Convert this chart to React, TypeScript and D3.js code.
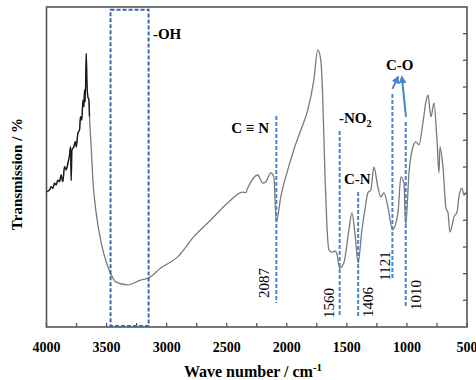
import React from "react";
import * as d3 from "d3";

// Spectrum: wavenumber (cm-1) and transmission (arbitrary %, 0–120 frame)
const wavenumbers = [
  4000, 3975, 3961, 3947, 3933, 3919, 3906, 3892, 3878, 3864, 3850, 3836, 3822, 3808, 3800, 3794, 3789,
  3772, 3761, 3752, 3739, 3725, 3717, 3706, 3697, 3689, 3683, 3678, 3669, 3664, 3656, 3647, 3642,
  3628, 3614, 3586, 3544, 3489, 3447, 3425, 3325, 3217, 3150, 3050, 2908, 2775, 2633, 2492, 2367,
  2342, 2325, 2242, 2200, 2175, 2133, 2108, 2087, 2050, 1992, 1942, 1883, 1825, 1775, 1742, 1717,
  1700, 1683, 1667, 1650, 1625, 1600, 1583, 1560, 1525, 1483, 1458, 1433, 1406, 1375, 1350, 1325,
  1300, 1275, 1242, 1217, 1192, 1158, 1121, 1075, 1050, 1025, 1010, 983, 950, 925, 900, 867, 842,
  825, 800, 775, 750, 733, 725, 700, 675, 658, 642, 608, 583, 567, 542, 525, 500,
];
const transmission = [
  50.7, 51.4, 52.6, 52.0, 53.9, 53.3, 55.1, 54.5, 57.0, 54.5, 60.1, 58.9, 61.4, 64.5, 67.6, 55.0, 66.4,
  67.6, 69.5, 67.6, 72.6, 73.9, 78.9, 77.6, 85.1, 82.6, 88.9, 84.5, 102.6, 92.6, 86.4, 85.1, 78.9,
  67.6, 55.1, 42.6, 31.4, 22.6, 18.3, 16.9, 15.8, 17.6, 18.4, 22.1, 26.3, 33.8, 40.1, 46.5, 50.6,
  50.3, 52.1, 57.0, 54.0, 54.4, 57.8, 56.3, 39.4, 48.8, 58.9, 66.4, 73.9, 81.4, 92.6, 103.9, 100.1,
  85.0, 58.0, 39.0, 29.0, 28.0, 28.5, 27.5, 22.1, 24.0, 36.4, 42.8, 35.3, 24.0, 36.4, 43.9, 50.3,
  51.4, 60.0, 52.5, 48.8, 50.3, 45.0, 36.4, 42.8, 56.3, 54.0, 38.3, 57.8, 67.5, 69.4, 68.3, 76.5, 84.4,
  87.0, 78.8, 84.0, 70.1, 57.8, 67.5, 60.0, 44.6, 42.8, 35.6, 41.3, 43.1, 48.8, 52.1, 49.5, 51.4,
];

const xTicks = [4000, 3500, 3000, 2500, 2000, 1500, 1000, 500];
const xMinorTicks = d3.range(4000, 499, -250);
const yTicks = d3.range(10, 120, 10);

// Annotations
const ohBoxRange = [3467, 3150];
const ohBoxT = [119, 0.4];
const peakPositions = [2087, 1560, 1406, 1121, 1010];
const peakLineTop = [79.1, 73.5, 50.6, 87.4, 76.9];
const peakLineBottom = [9.0, 3.8, 3.8, 17.6, 7.1];
const peakLabelX = [263.5, 329, 368, 384.5, 416];
const peakLabelY = [283, 303, 302, 266, 295];
const groupLabels = ["-OH", "C ≡ N", "C-N", "C-O"];
const groupLabelW = [3114, 2148, 1524, 1174];
const groupLabelT = [108, 72.8, 53.6, 96.4];
const arrowStartW = [1121, 1008];
const arrowStartT = [89.3, 78.8];
const arrowEndW = [1074, 1042];
const arrowEndT = [93.8, 93.8];

const W = 476;
const H = 380;
const left = 46.5;
const right = 467;
const top = 7;
const bottom = 327;

export default function App() {
  const x = d3.scaleLinear().domain([4000, 500]).range([left, right]);
  const y = d3.scaleLinear().domain([0, 120]).range([bottom, top]);
  const pts = wavenumbers.map((w, i) => [w, transmission[i]] as [number, number]);
  const line = d3
    .line<[number, number]>()
    .x((d) => x(d[0]))
    .y((d) => y(d[1]))
    .curve(d3.curveMonotoneX);
  const noisy = pts.filter((d) => d[0] >= 3640);
  const font = "'Liberation Serif', 'Times New Roman', serif";
  const blue = "#4a84cc";
  return (
    <svg width={W} height={H} style={{ position: "absolute", left: 0, top: 0, background: "#fff" }}>
      <defs>
        <marker id="ah" viewBox="0 0 10 10" refX="8" refY="5" markerWidth="4" markerHeight="4" orient="auto">
          <path d="M0,0 L10,5 L0,10 z" fill={blue} />
        </marker>
      </defs>
      {/* frame */}
      <rect x={left} y={top} width={right - left} height={bottom - top} fill="none" stroke="#555" strokeWidth={1.6} />
      {/* bottom ticks */}
      {xMinorTicks.map((t) => (
        <line key={"xt" + t} x1={x(t)} x2={x(t)} y1={bottom} y2={bottom - 4} stroke="#555" strokeWidth={1.3} />
      ))}
      {/* right ticks */}
      {yTicks.map((t) => (
        <line key={"yt" + t} x1={right} x2={right - 4} y1={y(t)} y2={y(t)} stroke="#555" strokeWidth={1.3} />
      ))}
      {xTicks.map((t) => (
        <text key={"xl" + t} x={x(t)} y={352} textAnchor="middle" fontFamily={font} fontWeight="bold" fontSize={14}>
          {t}
        </text>
      ))}
      {/* spectrum */}
      <path d={line(pts) || ""} fill="none" stroke="#7a7a7a" strokeWidth={1.3} />
      <path d={line(noisy) || ""} fill="none" stroke="#1a1a1a" strokeWidth={1.3} />
      {/* OH box */}
      <rect
        x={x(ohBoxRange[0])}
        y={y(ohBoxT[0])}
        width={x(ohBoxRange[1]) - x(ohBoxRange[0])}
        height={y(ohBoxT[1]) - y(ohBoxT[0])}
        fill="none"
        stroke="#3d6aa3"
        strokeWidth={2}
        strokeDasharray="4,2"
      />
      {/* peak lines */}
      {peakPositions.map((p, i) => (
        <line
          key={"pl" + p}
          x1={x(p)}
          x2={x(p)}
          y1={y(peakLineTop[i])}
          y2={y(peakLineBottom[i])}
          stroke={blue}
          strokeWidth={2}
          strokeDasharray="4,2"
        />
      ))}
      {peakPositions.map((p, i) => (
        <text
          key={"pt" + p}
          transform={`translate(${peakLabelX[i]},${peakLabelY[i]}) rotate(-90)`}
          textAnchor="middle"
          dominantBaseline="central"
          fontFamily={font}
          fontSize={15}
        >
          {p}
        </text>
      ))}
      {/* arrows */}
      {arrowStartW.map((w, i) => (
        <line
          key={"ar" + i}
          x1={x(w)}
          y1={y(arrowStartT[i])}
          x2={x(arrowEndW[i])}
          y2={y(arrowEndT[i])}
          stroke={blue}
          strokeWidth={2}
          markerEnd="url(#ah)"
        />
      ))}
      {/* group labels */}
      {groupLabels.map((g, i) => (
        <text
          key={"g" + i}
          x={x(groupLabelW[i])}
          y={y(groupLabelT[i])}
          textAnchor={i === 1 ? "end" : "start"}
          fontFamily={font}
          fontWeight="bold"
          fontSize={15}
        >
          {g}
        </text>
      ))}
      <text x={339} y={123} fontFamily={font} fontWeight="bold" fontSize={15}>
        -NO<tspan fontSize={10} dy={4}>2</tspan>
      </text>
      {/* axis titles */}
      <text x={253} y={377} textAnchor="middle" fontFamily={font} fontWeight="bold" fontSize={16}>
        Wave number / cm<tspan fontSize={11} dy={-6}>-1</tspan>
      </text>
      <text
        transform={`translate(22,${174}) rotate(-90)`}
        textAnchor="middle"
        fontFamily={font}
        fontWeight="bold"
        fontSize={15}
      >
        Transmission / %
      </text>
    </svg>
  );
}
